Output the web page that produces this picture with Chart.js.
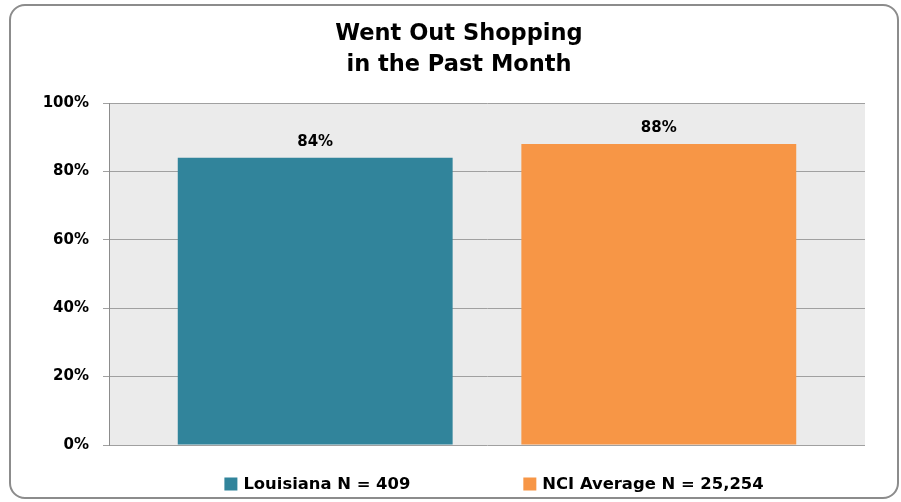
<!DOCTYPE html>
<html>
<head>
<meta charset="utf-8">
<script src="https://cdn.jsdelivr.net/npm/chart.js@4"></script>
<style>
  html, body { margin: 0; padding: 0; background: #fff; }
  #wrap { width: 901px; height: 502px; }
</style>
</head>
<body>
<div id="wrap"><canvas id="shoppingChart" width="901" height="502"></canvas></div>
<script>
// Data
const chartTitle = ['Went Out Shopping', 'in the Past Month'];
const categories = ['Went Out Shopping in the Past Month'];
const seriesNames = ['Louisiana N = 409', 'NCI Average N = 25,254'];
const louisianaValues = [84];
const nciValues = [88];
const yTicks = [0, 20, 40, 60, 80, 100];

const FONT = "'DejaVu Sans', 'Open Sans', sans-serif";

// Frame, title, plot background, value labels and legend
const decorPlugin = {
    id: 'decor',
    beforeDraw(chart) {
        const ctx = chart.ctx;
        const a = chart.chartArea;
        ctx.save();
        ctx.fillStyle = '#ffffff';
        ctx.fillRect(0, 0, chart.width, chart.height);
        // rounded outer frame
        ctx.strokeStyle = '#8c8c8c';
        ctx.lineWidth = 2;
        ctx.beginPath();
        ctx.roundRect(10, 5, 888, 493, 15);
        ctx.stroke();
        // plot background
        ctx.fillStyle = '#ebebeb';
        ctx.fillRect(a.left, a.top, a.right - a.left, a.bottom - a.top);
        // title (offset from the plot centre, as in the original)
        ctx.fillStyle = '#000';
        ctx.font = 'bold 22.5px ' + FONT;
        ctx.textAlign = 'center';
        ctx.textBaseline = 'middle';
        chartTitle.forEach((line, i) => ctx.fillText(line, 459, 34 + i * 31));
        ctx.restore();
    },
    afterDatasetsDraw(chart) {
        const ctx = chart.ctx;
        ctx.save();
        ctx.font = 'bold 15px ' + FONT;
        ctx.fillStyle = '#000';
        ctx.textAlign = 'center';
        ctx.textBaseline = 'bottom';
        chart.data.datasets.forEach((ds, i) => {
            chart.getDatasetMeta(i).data.forEach((bar, j) => {
                ctx.fillText(ds.data[j] + '%', bar.x, bar.y - 8);
            });
        });

        // legend below the plot
        ctx.font = 'bold 16.4px ' + FONT;
        ctx.textAlign = 'left';
        ctx.textBaseline = 'middle';
        const box = 13, gapText = 6, gapItem = 113, y = 484;
        const widths = chart.data.datasets.map(ds => box + gapText + ctx.measureText(ds.label).width);
        const total = widths.reduce((s, w) => s + w, 0) + gapItem * (widths.length - 1);
        let x = 494 - total / 2;
        chart.data.datasets.forEach((ds, i) => {
            ctx.fillStyle = ds.backgroundColor;
            ctx.fillRect(x, y - box / 2, box, box);
            ctx.fillStyle = '#000';
            ctx.fillText(ds.label, x + box + gapText, y + 1);
            x += widths[i] + gapItem;
        });
        ctx.restore();
    }
};

new Chart(document.getElementById('shoppingChart'), {
    type: 'bar',
    data: {
        labels: categories,
        datasets: [{
            label: seriesNames[0],
            data: louisianaValues,
            backgroundColor: '#31849b'
        }, {
            label: seriesNames[1],
            data: nciValues,
            backgroundColor: '#f79646'
        }]
    },
    options: {
        responsive: false,
        animation: false,
        devicePixelRatio: 1,
        categoryPercentage: 0.909,
        barPercentage: 0.8,
        layout: {
            padding: { left: 20, right: 36, top: 103, bottom: 57 }
        },
        plugins: {
            legend: { display: false },
            tooltip: { enabled: false },
            title: { display: false }
        },
        scales: {
            x: {
                display: false
            },
            y: {
                min: 0,
                max: 100,
                afterBuildTicks(scale) {
                    scale.ticks = yTicks.map(v => ({ value: v }));
                },
                afterFit(scale) {
                    scale.width = 89;
                },
                ticks: {
                    color: '#000',
                    padding: 14,
                    font: { family: FONT, size: 15, weight: 'bold' },
                    callback: v => v + '%'
                },
                grid: {
                    color: '#a0a0a0',
                    lineWidth: 1,
                    tickLength: 6,
                    drawTicks: true
                },
                border: {
                    display: true,
                    color: '#8c8c8c',
                    width: 1
                }
            }
        }
    },
    plugins: [decorPlugin]
});
</script>
</body>
</html>
